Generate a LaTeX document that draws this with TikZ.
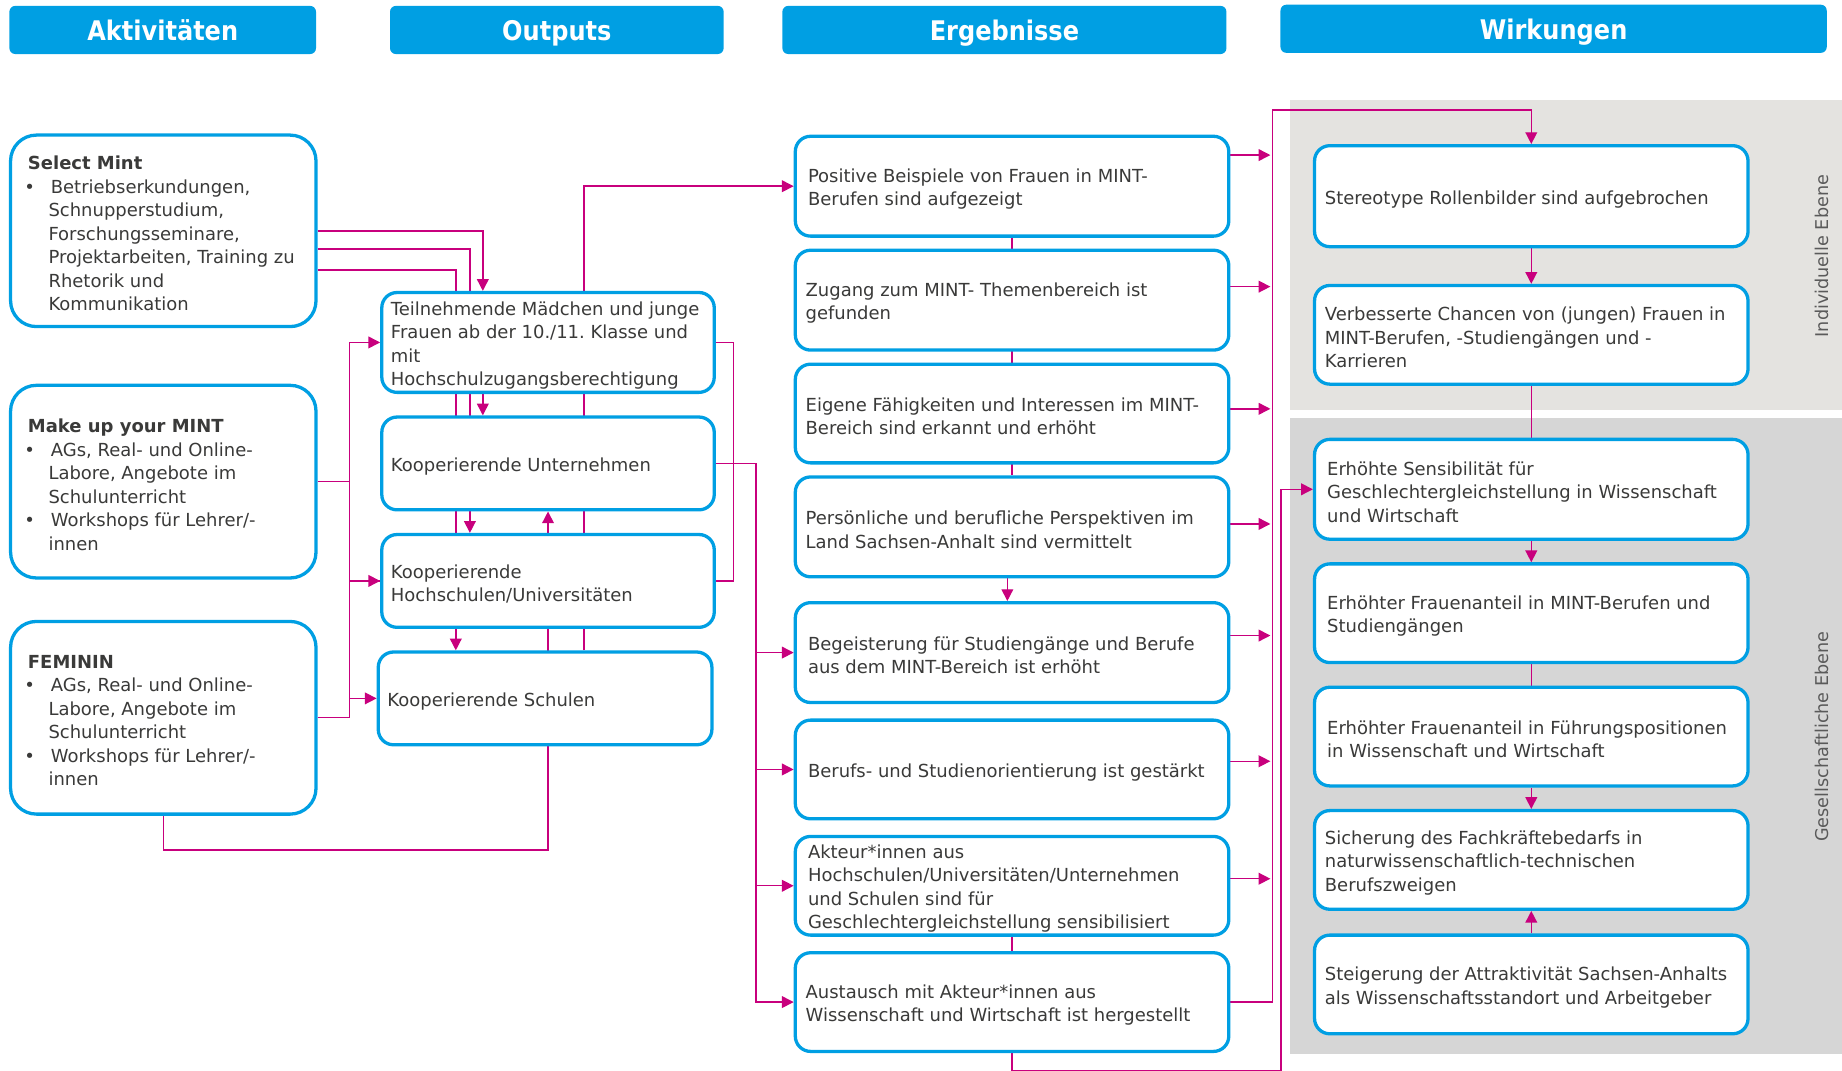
\documentclass[tikz,border=0pt]{standalone}
\usepackage{fontspec}
\setmainfont{DejaVu Sans}
\newfontfamily\headfont[FakeStretch=0.89]{DejaVu Sans}
\usetikzlibrary{arrows.meta,calc}

\definecolor{hblue}{HTML}{009FE3}
\definecolor{wire}{HTML}{C8007D}
\definecolor{ink}{HTML}{3A3A39}
\definecolor{panelA}{HTML}{E4E3E0}
\definecolor{panelB}{HTML}{D6D6D6}
\definecolor{sidetext}{HTML}{5A5A5A}

\newcommand\bulletbox{\makebox[22.5pt][l]{\textbullet}}
\newcommand\hangbox{\hspace*{20.5pt}}

\pgfdeclarelayer{panels}
\pgfdeclarelayer{wires}
\pgfsetlayers{panels,wires,main}

\begin{document}
\frenchspacing
\begin{tikzpicture}[x=1pt,y=-1pt,
  hdr/.style={fill=hblue, rounded corners=5pt, text=white,
    font=\headfont\bfseries\fontsize{23}{26}\selectfont, inner sep=0pt,
    minimum height=41pt, text height=17.5pt, text depth=0pt},
  sz/.style 2 args={minimum width=#1pt, minimum height=#2pt},
  card/.style={draw=hblue, line width=2.8pt, fill=white, inner sep=0pt},
  actcard/.style={card, rounded corners=22pt},
  smallcard/.style={card, rounded corners=13pt},
  txt/.style={anchor=west, align=left, inner sep=0pt, text=ink, yshift=-2.5pt,
    font=\fontsize{15.3}{20}\selectfont},
  conn/.style={draw=wire, line width=1.2pt},
  arr/.style={conn, -{Triangle[length=10pt,width=10pt]}},
  side/.style={rotate=90, text=sidetext, font=\fontsize{15}{18}\selectfont, inner sep=0pt},
]
\useasboundingbox (0,0) rectangle (1568,911);

% column headers
\node[hdr, minimum width=261pt] (hA) at (138.5,25.5) {Aktivitäten};
\node[hdr, minimum width=284pt] (hO) at (474,25.5) {Outputs};
\node[hdr, minimum width=378pt] (hE) at (855,25.5) {Ergebnisse};
\node[hdr, minimum width=465pt] (hW) at (1322.5,24.5) {Wirkungen};

% level panels behind the impact column
\begin{pgfonlayer}{panels}
  \fill[panelA] (1098,85) rectangle (1568,349);
  \fill[panelB] (1098,356) rectangle (1568,897);
\end{pgfonlayer}
\node[side] (lvlI) at (1551,218) {Individuelle Ebene};
\node[side] (lvlG) at (1551,627) {Gesellschaftliche Ebene};

% activities
\node[actcard, sz={260}{163}] (sm) at (139,196.5) {};
\node[actcard, sz={260}{164}] (mu) at (139,410) {};
\node[actcard, sz={260}{164}] (fe) at (139,611) {};
\node[txt] (smT) at ([xshift=13pt]sm.west) {\hspace*{3pt}\textbf{Select Mint}\\
  \bulletbox Betriebserkundungen,\\
  \hangbox Schnupperstudium,\\
  \hangbox Forschungsseminare,\\
  \hangbox Projektarbeiten, Training zu\\
  \hangbox Rhetorik und\\
  \hangbox Kommunikation};
\node[txt] (muT) at ([xshift=13pt]mu.west) {\hspace*{3pt}\textbf{Make up your MINT}\\
  \bulletbox AGs, Real- und Online-\\
  \hangbox Labore, Angebote im\\
  \hangbox Schulunterricht\\
  \bulletbox Workshops für Lehrer/-\\
  \hangbox innen};
\node[txt] (feT) at ([xshift=13pt]fe.west) {\hspace*{3pt}\textbf{FEMININ}\\
  \bulletbox AGs, Real- und Online-\\
  \hangbox Labore, Angebote im\\
  \hangbox Schulunterricht\\
  \bulletbox Workshops für Lehrer/-\\
  \hangbox innen};

% outputs
\node[smallcard, sz={283}{85}] (tn) at (466.5,291.5) {};
\node[smallcard, sz={283}{79}] (un) at (466.5,394.5) {};
\node[smallcard, sz={283}{79}] (hs) at (466.5,494.5) {};
\node[smallcard, sz={284}{79}] (sc) at (464,594.5) {};
\node[txt] (tnT) at ([xshift=9pt]tn.west) {Teilnehmende Mädchen und junge\\Frauen ab der 10./11. Klasse und\\mit\\Hochschulzugangsberechtigung};
\node[txt] (unT) at ([xshift=9pt]un.west) {Kooperierende Unternehmen};
\node[txt] (hsT) at ([xshift=9pt]hs.west) {Kooperierende\\Hochschulen/Universitäten};
\node[txt] (scT) at ([xshift=9pt]sc.west) {Kooperierende Schulen};

% outcomes
\node[smallcard, sz={369}{85}] (e1) at (861.5,158.5) {};
\node[smallcard, sz={369}{85}] (e2) at (861.5,255.5) {};
\node[smallcard, sz={369}{84}] (e3) at (861.5,352) {};
\node[smallcard, sz={369}{85}] (e4) at (861.5,448.5) {};
\node[smallcard, sz={369}{85}] (e5) at (861.5,555.5) {};
\node[smallcard, sz={369}{84}] (e6) at (861.5,655) {};
\node[smallcard, sz={369}{84}] (e7) at (861.5,754) {};
\node[smallcard, sz={369}{84}] (e8) at (861.5,853) {};
\node[txt] (e1T) at ([xshift=12pt]e1.west) {Positive Beispiele von Frauen in MINT-\\Berufen sind aufgezeigt};
\node[txt] (e2T) at ([xshift=10pt]e2.west) {Zugang zum MINT- Themenbereich ist\\gefunden};
\node[txt] (e3T) at ([xshift=10pt]e3.west) {Eigene Fähigkeiten und Interessen im MINT-\\Bereich sind erkannt und erhöht};
\node[txt] (e4T) at ([xshift=10pt]e4.west) {Persönliche und berufliche Perspektiven im\\Land Sachsen-Anhalt sind vermittelt};
\node[txt] (e5T) at ([xshift=12pt]e5.west) {Begeisterung für Studiengänge und Berufe\\aus dem MINT-Bereich ist erhöht};
\node[txt] (e6T) at ([xshift=12pt]e6.west) {Berufs- und Studienorientierung ist gestärkt};
\node[txt] (e7T) at ([xshift=12pt]e7.west) {Akteur*innen aus\\Hochschulen/Universitäten/Unternehmen\\und Schulen sind für\\Geschlechtergleichstellung sensibilisiert};
\node[txt] (e8T) at ([xshift=10pt]e8.west) {Austausch mit Akteur*innen aus\\Wissenschaft und Wirtschaft ist hergestellt};

% impacts
\node[smallcard, sz={369}{86}] (w1) at (1303.5,167) {};
\node[smallcard, sz={369}{84}] (w2) at (1303.5,285) {};
\node[smallcard, sz={369}{85}] (w3) at (1303.5,416.5) {};
\node[smallcard, sz={369}{84}] (w4) at (1303.5,522) {};
\node[smallcard, sz={369}{84}] (w5) at (1303.5,627) {};
\node[smallcard, sz={369}{84}] (w6) at (1303.5,732) {};
\node[smallcard, sz={369}{84}] (w7) at (1303.5,838) {};
\node[txt] (w1T) at ([xshift=10pt]w1.west) {Stereotype Rollenbilder sind aufgebrochen};
\node[txt] (w2T) at ([xshift=10pt]w2.west) {Verbesserte Chancen von (jungen) Frauen in\\MINT-Berufen, -Studiengängen und -\\Karrieren};
\node[txt] (w3T) at ([xshift=12pt]w3.west) {Erhöhte Sensibilität für\\Geschlechtergleichstellung in Wissenschaft\\und Wirtschaft};
\node[txt] (w4T) at ([xshift=12pt]w4.west) {Erhöhter Frauenanteil in MINT-Berufen und\\Studiengängen};
\node[txt] (w5T) at ([xshift=12pt]w5.west) {Erhöhter Frauenanteil in Führungspositionen\\in Wissenschaft und Wirtschaft};
\node[txt] (w6T) at ([xshift=10pt]w6.west) {Sicherung des Fachkräftebedarfs in\\naturwissenschaftlich-technischen\\Berufszweigen};
\node[txt] (w7T) at ([xshift=10pt]w7.west) {Steigerung der Attraktivität Sachsen-Anhalts\\als Wissenschaftsstandort und Arbeitgeber};

\begin{pgfonlayer}{wires}
  % Select Mint feeds the outputs
  \draw[arr] (sm.east) -| ([xshift=-55.5pt]tn.north);
  \draw[arr] ([yshift=-15.5pt]sm.east) -| ([xshift=-66.5pt]hs.north);
  \draw[arr] ([yshift=-33.5pt]sm.east) -| ([xshift=-76pt]sc.north);
  \draw[arr] ([xshift=-55.5pt]tn.south) -- ([xshift=-55.5pt]un.north);
  % Make up your MINT and FEMININ share a bus on the left
  \draw[arr] (mu.east) -- ++(27,0) |- (tn.west);
  \draw[arr] (mu.east) -- ++(27,0) |- (hs.west);
  \draw[conn] (fe.east) -- ++(27,0) |- (hs.west);
  \draw[arr] (fe.east) -- ++(27,0) |- (sc.west);
  \draw[arr] (fe.south) -- ++(0,29) -| (un.south);
  % links among the outputs and on to the outcomes
  \draw[conn] (tn.east) -- ++(15,0) |- (hs.east);
  \draw[arr] (un.east) -- ++(34,0) |- (e5.west);
  \draw[arr] (un.east) -- ++(34,0) |- (e6.west);
  \draw[arr] (un.east) -- ++(34,0) |- (e7.west);
  \draw[arr] (un.east) -- ++(34,0) |- (e8.west);
  \draw[arr] ([xshift=33pt]sc.north) |- (e1.west);
  % outcome chain
  \draw[conn] (e1.south) -- (e4.north);
  \draw[arr] ([xshift=-4pt]e4.south) -- ([xshift=-4pt]e5.north);
  \draw[conn] (e7.south) -- (e8.north);
  \draw[arr] (e8.south) -- ++(0,15) -| ([xshift=-27pt]w3.west) -- (w3.west);
  % outcomes into the impact bus
  \draw[arr] ([yshift=26.5pt]e1.east) -- ++(34,0);
  \draw[arr] ([yshift=11.5pt]e2.east) -- ++(34,0);
  \draw[arr] ([yshift=4pt]e3.east) -- ++(34,0);
  \draw[arr] ([yshift=2.5pt]e4.east) -- ++(34,0);
  \draw[arr] ([yshift=14.5pt]e5.east) -- ++(34,0);
  \draw[arr] ([yshift=7pt]e6.east) -- ++(34,0);
  \draw[arr] ([yshift=6pt]e7.east) -- ++(34,0);
  \draw[arr] (e8.east) -- ++(36,0) |- ([yshift=29pt]w1.north) -- (w1.north);
  % impact chain
  \draw[arr] (w1.south) -- (w2.north);
  \draw[conn] (w2.south) -- (w3.north);
  \draw[arr] (w3.south) -- (w4.north);
  \draw[conn] (w4.south) -- (w5.north);
  \draw[arr] (w5.south) -- (w6.north);
  \draw[arr] (w7.north) -- (w6.south);
\end{pgfonlayer}
\end{tikzpicture}
\end{document}
